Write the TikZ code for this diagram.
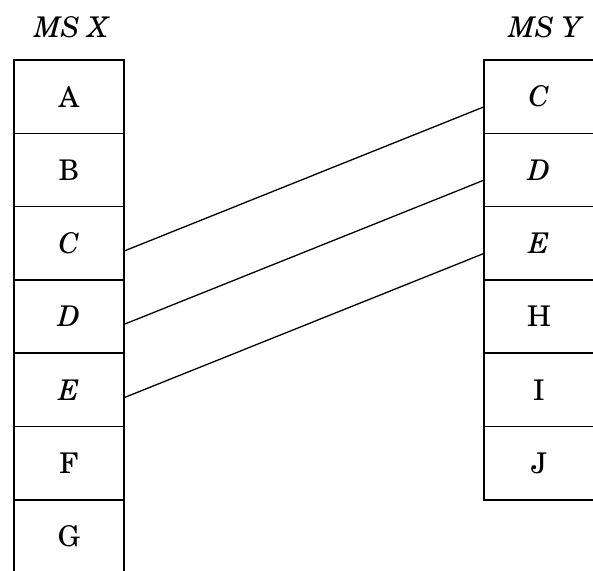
\documentclass[tikz,border=0pt]{standalone}
\usepackage{fontspec}
\setmainfont{TeX Gyre Schola}
\begin{document}
\begin{tikzpicture}[x=1pt,y=-1pt,
  cell/.style={draw, line width=1.6pt, minimum width=110pt, minimum height=73.3pt, inner sep=0pt, font=\fontsize{28.5}{30}\selectfont},
  head/.style={inner sep=0pt, font=\fontsize{28.5}{30}\selectfont\itshape},
  link/.style={line width=1.3pt}]
\useasboundingbox (0,0) rectangle (593,570);
% left column
\node[cell] (xa) at (69,96.65) {A};
\node[cell] (xb) at (69,169.95) {B};
\node[cell] (xc) at (69,243.25) {\textit{C}};
\node[cell] (xd) at (69,316.55) {\textit{D}};
\node[cell] (xe) at (69,389.85) {\textit{E}};
\node[cell] (xf) at (69,463.15) {F};
\node[cell] (xg) at (69,536.45) {G};
% right column
\node[cell] (yc) at (539,96.65) {\textit{C}};
\node[cell] (yd) at (539,169.95) {\textit{D}};
\node[cell] (ye) at (539,243.25) {\textit{E}};
\node[cell] (yh) at (539,316.55) {H};
\node[cell] (yi) at (539,389.85) {I};
\node[cell] (yj) at (539,463.15) {J};
% headers
\node[head] (hx) at (71,27) {MS X};
\node[head] (hy) at (545,27) {MS Y};
% links
\draw[link] ([yshift=-7.5pt]xc.east) -- ([yshift=-10.5pt]yc.west);
\draw[link] ([yshift=-7.5pt]xd.east) -- ([yshift=-10.5pt]yd.west);
\draw[link] ([yshift=-7.5pt]xe.east) -- ([yshift=-10.5pt]ye.west);
\end{tikzpicture}
\end{document}
